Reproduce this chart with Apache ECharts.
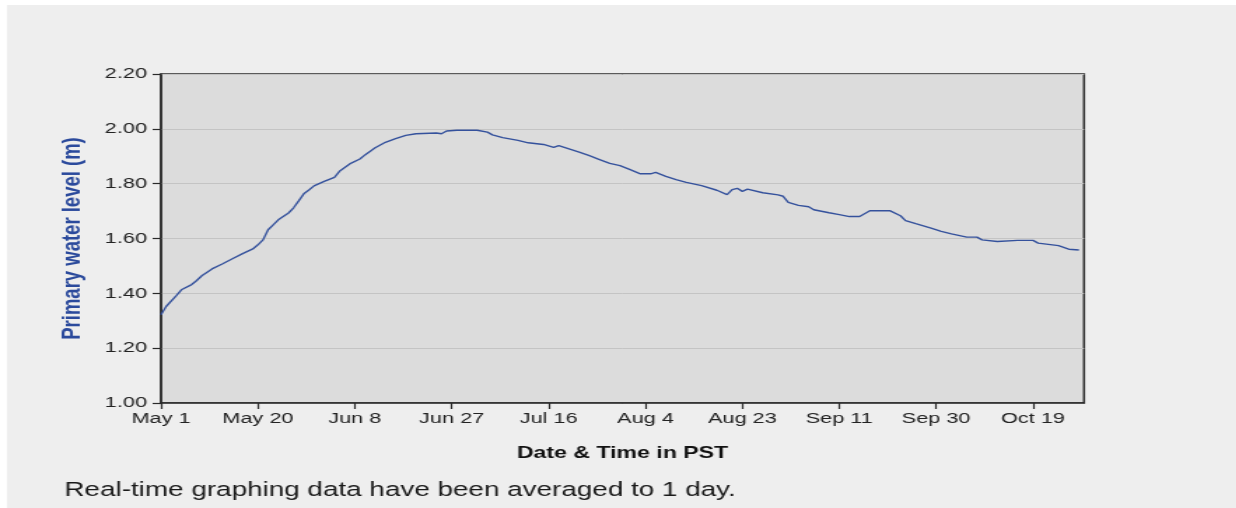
<!DOCTYPE html>
<html>
<head>
<meta charset="utf-8">
<script src="https://cdn.jsdelivr.net/npm/echarts@6/dist/echarts.min.js"></script>
<style>
  html, body { margin: 0; padding: 0; background: #eeeeee; overflow: hidden; }
  #wrap { width: 1236px; height: 508px; overflow: hidden; position: relative; background: #eeeeee; }
  /* the reference image is horizontally stretched; draw at 1/1.4 width and stretch */
  #chart { width: 890px; height: 514px; transform: scaleX(1.4); transform-origin: 0 0; }
</style>
</head>
<body>
<div id="wrap"><div id="chart"></div></div>
<script>
// Days after May 1
const days = [0, 1, 3, 4, 6, 7, 8, 10, 12, 14, 16, 18, 19, 20, 21, 22, 23, 25, 26, 27, 28, 29, 30, 32, 34, 35, 37, 39, 40, 42, 44, 46, 48, 50, 54, 55, 56, 58, 62, 64, 65, 67, 70, 72, 75, 77, 78, 80, 82, 84, 86, 88, 90, 92, 94, 96, 97, 99, 101, 103, 106, 109, 111, 112, 113, 114, 115, 118, 121, 122, 123, 125, 127, 128, 131, 133, 135, 137, 139, 143, 145, 146, 148, 151, 153, 155, 158, 160, 161, 164, 168, 171, 172, 176, 178, 180];
// Primary water level (m)
const levels = [1.322, 1.352, 1.392, 1.413, 1.432, 1.447, 1.464, 1.489, 1.507, 1.526, 1.545, 1.562, 1.577, 1.595, 1.632, 1.650, 1.668, 1.693, 1.712, 1.737, 1.763, 1.777, 1.792, 1.808, 1.823, 1.845, 1.872, 1.890, 1.905, 1.931, 1.951, 1.964, 1.976, 1.982, 1.985, 1.982, 1.992, 1.995, 1.995, 1.988, 1.978, 1.968, 1.958, 1.949, 1.943, 1.932, 1.939, 1.927, 1.915, 1.902, 1.888, 1.874, 1.866, 1.851, 1.836, 1.836, 1.841, 1.827, 1.815, 1.805, 1.793, 1.776, 1.760, 1.778, 1.783, 1.772, 1.780, 1.767, 1.759, 1.754, 1.732, 1.721, 1.716, 1.705, 1.694, 1.687, 1.680, 1.680, 1.701, 1.701, 1.683, 1.665, 1.654, 1.638, 1.626, 1.617, 1.605, 1.605, 1.595, 1.589, 1.593, 1.593, 1.583, 1.574, 1.561, 1.558];
// x-axis tick labels, every 19 days from May 1
const tickLabels = ['May 1', 'May 20', 'Jun 8', 'Jun 27', 'Jul 16', 'Aug 4', 'Aug 23', 'Sep 11', 'Sep 30', 'Oct 19'];
const tickStep = 19;
const lastDay = 181;

const FONT = '"Liberation Sans", Arial, sans-serif';
const chart = echarts.init(document.getElementById('chart'), null, { renderer: 'canvas' });
chart.setOption({
  animation: false,
  backgroundColor: '#eeeeee',
  graphic: [
    { type: 'rect', shape: { x: 0, y: 0, width: 890, height: 5 }, style: { fill: '#ffffff' }, silent: true },
    { type: 'rect', shape: { x: 0, y: 0, width: 5, height: 514 }, style: { fill: '#ffffff' }, silent: true },
    { type: 'text', left: 46, top: 481, style: { text: 'Real-time graphing data have been averaged to 1 day.', font: '19.9px ' + FONT, fill: '#1a1a1a' }, silent: true }
  ],
  grid: {
    left: 115, top: 74, width: 659.3, height: 329,
    show: true, backgroundColor: '#dcdcdc', borderColor: '#2a2a2a', borderWidth: 1.5
  },
  xAxis: {
    type: 'value', min: 0, max: lastDay, interval: tickStep,
    name: 'Date & Time in PST', nameLocation: 'middle', nameGap: 42,
    nameTextStyle: { fontFamily: FONT, fontWeight: 'bold', fontSize: 16.5, color: '#111' },
    axisLine: { show: true, lineStyle: { color: '#2a2a2a', width: 1.5 } },
    axisTick: { show: true, length: 6, lineStyle: { color: '#2a2a2a', width: 1.2 } },
    axisLabel: {
      fontFamily: FONT, fontSize: 15.5, color: '#222', margin: 8, showMaxLabel: false,
      formatter: v => (v % tickStep === 0 && tickLabels[v / tickStep] !== undefined) ? tickLabels[v / tickStep] : ''
    },
    splitLine: { show: false }
  },
  yAxis: {
    type: 'value', min: 1.0, max: 2.2, interval: 0.2,
    name: 'Primary water level (m)', nameLocation: 'middle', nameGap: 54, nameRotate: 90,
    nameTextStyle: { fontFamily: FONT, fontWeight: 'bold', fontSize: 18.5, color: '#2b4a9c' },
    axisLine: { show: true, lineStyle: { color: '#2a2a2a', width: 1.5 } },
    axisTick: { show: true, length: 6, lineStyle: { color: '#2a2a2a', width: 1.2 } },
    axisLabel: { fontFamily: FONT, fontSize: 15.5, color: '#222', margin: 10, formatter: v => v.toFixed(2) },
    splitLine: { show: true, lineStyle: { color: '#c4c4c4', width: 1 } }
  },
  series: [{
    type: 'line',
    data: days.map((d, i) => [d, levels[i]]),
    showSymbol: false,
    lineStyle: { color: '#34519c', width: 1.4 },
    itemStyle: { color: '#34519c' }
  }]
});
</script>
</body>
</html>
